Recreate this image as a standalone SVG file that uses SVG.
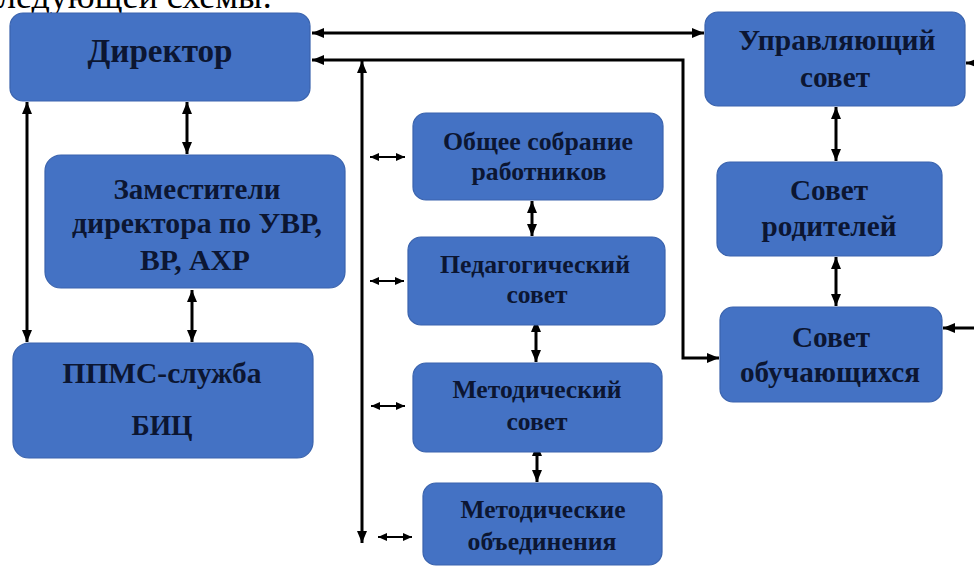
<svg xmlns="http://www.w3.org/2000/svg" width="974" height="567" viewBox="0 0 974 567">
<defs>
<style>
.box{fill:#4472c4;stroke:#3a63ad;stroke-width:1.2}
.t{font-family:"Liberation Serif","Times New Roman",serif;font-weight:bold;fill:#0c1632;text-anchor:middle}
.big{font-size:30px}
.mid{font-size:25px}
.dir{font-size:33px}
.ln{fill:none;stroke:#000;stroke-width:3}
.thin{fill:none;stroke:#000;stroke-width:1.8}
</style>
<marker id="ah" markerUnits="userSpaceOnUse" viewBox="0 0 12 10" refX="12" refY="5" markerWidth="12" markerHeight="10" orient="auto-start-reverse">
<path d="M0,0 L12,5 L0,10 z" fill="#000"/>
</marker>
<marker id="ahs" markerUnits="userSpaceOnUse" viewBox="0 0 9 8" refX="9" refY="4" markerWidth="9" markerHeight="8" orient="auto-start-reverse">
<path d="M0,0 L9,4 L0,8 z" fill="#000"/>
</marker>
</defs>
<rect width="974" height="567" fill="#fff"/>
<text x="-2" y="8" style="font-family:'Liberation Serif','Times New Roman',serif;font-size:36px;fill:#000">ледующей схемы:</text>

<g id="connectors">
<line class="ln" x1="312" y1="33" x2="704" y2="33" marker-start="url(#ah)" marker-end="url(#ah)"/>
<path class="ln" d="M312,60 H683 V358 H719" marker-start="url(#ah)" marker-end="url(#ah)"/>
<line class="ln" x1="362" y1="61" x2="362" y2="543" marker-start="url(#ah)" marker-end="url(#ah)"/>
<line class="ln" x1="27" y1="102" x2="27" y2="342" marker-start="url(#ah)" marker-end="url(#ah)"/>
<line class="ln" x1="187" y1="102" x2="187" y2="154" marker-start="url(#ah)" marker-end="url(#ah)"/>
<line class="ln" x1="192" y1="290" x2="192" y2="342" marker-start="url(#ah)" marker-end="url(#ah)"/>
<line class="ln" x1="836" y1="107" x2="836" y2="161" marker-start="url(#ah)" marker-end="url(#ah)"/>
<line class="ln" x1="836" y1="257" x2="836" y2="306" marker-start="url(#ah)" marker-end="url(#ah)"/>
<line class="ln" x1="990" y1="63" x2="966" y2="63" marker-end="url(#ah)"/>
<line class="ln" x1="990" y1="328" x2="943" y2="328" marker-end="url(#ah)"/>
<line class="ln" x1="532" y1="201" x2="532" y2="236" marker-start="url(#ah)" marker-end="url(#ah)"/>
<line class="ln" x1="536" y1="320" x2="536" y2="362" marker-start="url(#ah)" marker-end="url(#ah)"/>
<line class="ln" x1="537" y1="444" x2="537" y2="482" marker-start="url(#ah)" marker-end="url(#ah)"/>
<line class="thin" x1="370" y1="157" x2="405" y2="157" marker-start="url(#ahs)" marker-end="url(#ahs)"/>
<line class="thin" x1="370" y1="281" x2="404" y2="281" marker-start="url(#ahs)" marker-end="url(#ahs)"/>
<line class="thin" x1="371" y1="406" x2="405" y2="406" marker-start="url(#ahs)" marker-end="url(#ahs)"/>
<line class="thin" x1="378" y1="537" x2="412" y2="537" marker-start="url(#ahs)" marker-end="url(#ahs)"/>
</g>

<g id="director">
<rect class="box" x="10" y="13" width="300" height="88" rx="13"/>
<text class="t dir" x="160" y="62" textLength="145" lengthAdjust="spacingAndGlyphs">Директор</text>
</g>
<g id="deputies">
<rect class="box" x="45" y="155" width="300" height="133" rx="16"/>
<text class="t big" x="197" y="199" textLength="167" lengthAdjust="spacingAndGlyphs">Заместители</text>
<text class="t big" x="197" y="233" textLength="250" lengthAdjust="spacingAndGlyphs">директора по УВР,</text>
<text class="t big" x="195" y="270" textLength="110" lengthAdjust="spacingAndGlyphs">ВР, АХР</text>
</g>
<g id="ppms">
<rect class="box" x="13" y="343" width="300" height="115" rx="16"/>
<text class="t big" x="162" y="383" textLength="199" lengthAdjust="spacingAndGlyphs">ППМС-служба</text>
<text class="t big" x="162" y="435" textLength="61" lengthAdjust="spacingAndGlyphs">БИЦ</text>
</g>
<g id="governing">
<rect class="box" x="705" y="12" width="260" height="94" rx="13"/>
<text class="t big" x="837" y="50" textLength="197" lengthAdjust="spacingAndGlyphs">Управляющий</text>
<text class="t big" x="835" y="87" textLength="70" lengthAdjust="spacingAndGlyphs">совет</text>
</g>
<g id="parents">
<rect class="box" x="717" y="162" width="225" height="94" rx="13"/>
<text class="t big" x="829" y="200" textLength="78" lengthAdjust="spacingAndGlyphs">Совет</text>
<text class="t big" x="829" y="236" textLength="135" lengthAdjust="spacingAndGlyphs">родителей</text>
</g>
<g id="students">
<rect class="box" x="720" y="307" width="222" height="95" rx="13"/>
<text class="t big" x="831" y="347" textLength="78" lengthAdjust="spacingAndGlyphs">Совет</text>
<text class="t big" x="830" y="382" textLength="180" lengthAdjust="spacingAndGlyphs">обучающихся</text>
</g>
<g id="general-meeting">
<rect class="box" x="413" y="113" width="250" height="87" rx="13"/>
<text class="t mid" x="538" y="150" textLength="190" lengthAdjust="spacingAndGlyphs">Общее собрание</text>
<text class="t mid" x="539" y="180" textLength="135" lengthAdjust="spacingAndGlyphs">работников</text>
</g>
<g id="pedagogical">
<rect class="box" x="408" y="237" width="257" height="88" rx="13"/>
<text class="t mid" x="535" y="273" textLength="190" lengthAdjust="spacingAndGlyphs">Педагогический</text>
<text class="t mid" x="537" y="303" textLength="61" lengthAdjust="spacingAndGlyphs">совет</text>
</g>
<g id="methodical-council">
<rect class="box" x="413" y="363" width="249" height="89" rx="13"/>
<text class="t mid" x="537" y="398" textLength="169" lengthAdjust="spacingAndGlyphs">Методический</text>
<text class="t mid" x="537" y="430" textLength="61" lengthAdjust="spacingAndGlyphs">совет</text>
</g>
<g id="methodical-units">
<rect class="box" x="423" y="483" width="239" height="82" rx="13"/>
<text class="t mid" x="543" y="518" textLength="165" lengthAdjust="spacingAndGlyphs">Методические</text>
<text class="t mid" x="542" y="550" textLength="149" lengthAdjust="spacingAndGlyphs">объединения</text>
</g>
</svg>
